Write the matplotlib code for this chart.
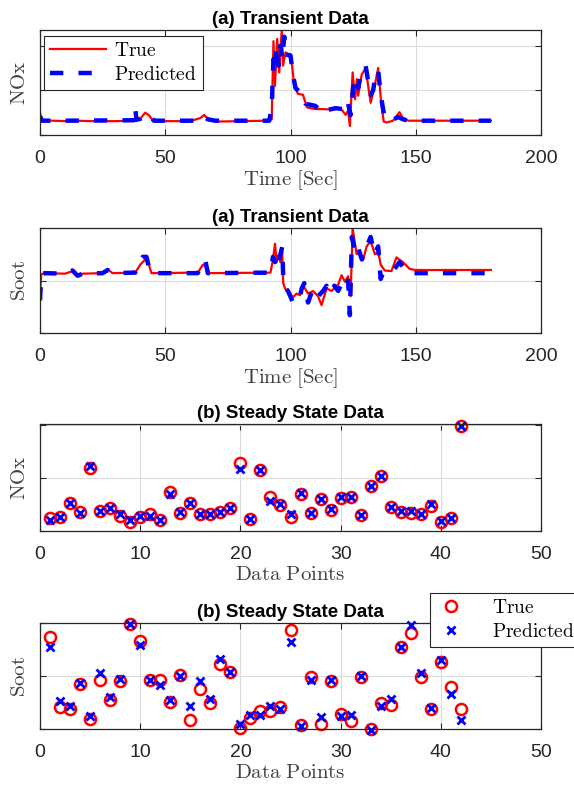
import numpy as np
import matplotlib
matplotlib.use('Agg')
import matplotlib.pyplot as plt

plt.rcParams['font.family'] = ['Liberation Sans', 'DejaVu Sans']
plt.rcParams['mathtext.fontset'] = 'cm'

# transient NOx (time in sec, arbitrary normalised units)
nox_t_true = [0, 0.5, 1, 5, 10, 13, 15, 20, 30, 38, 40, 42, 43.5, 45, 50, 60, 64, 65.5, 67, 70,
              80, 90, 92.5, 93.2, 93.8, 94.7, 95.5, 96.5, 97, 98, 99.5, 100.5, 101.5, 103, 105,
              106.5, 108, 110, 113, 116, 120, 122, 123, 123.7, 124.8, 125.8, 126.5, 127, 128.4,
              130, 131, 132, 133.6, 135, 136, 137.2, 138.5, 140.9, 143.5, 144.9, 147, 150, 180]
nox_true = [0.50, 0.35, 0.33, 0.32, 0.31, 0.34, 0.32, 0.31, 0.31, 0.32, 0.36, 0.50, 0.44, 0.33,
            0.31, 0.31, 0.38, 0.45, 0.36, 0.30, 0.31, 0.32, 0.35, 2.10, 1.10, 2.15, 1.40, 2.35,
            1.55, 1.85, 1.80, 1.62, 1.10, 0.92, 0.90, 0.62, 0.60, 0.58, 0.58, 0.57, 0.60, 0.45,
            0.55, 0.20, 1.40, 0.80, 1.25, 0.88, 1.35, 1.50, 1.10, 0.72, 1.10, 1.50, 0.85, 0.30,
            0.28, 0.32, 0.51, 0.38, 0.32, 0.32, 0.32]
nox_t_pred = [0, 0.8, 10, 37.5, 38, 38.5, 40, 42, 44, 45.5, 63, 65, 67, 70, 91.5, 92.5, 93.2,
              93.8, 94.5, 95.2, 96, 96.7, 97.5, 98, 100, 101, 102, 105, 106, 110, 112, 113, 114,
              118, 121, 122, 123, 124, 125, 126, 127, 128, 130, 131, 132, 133, 134, 135, 136,
              137.5, 140, 143, 145, 147, 180]
nox_pred = [0.42, 0.32, 0.32, 0.33, 0.62, 0.34, 0.36, 0.47, 0.42, 0.32, 0.32, 0.42, 0.35, 0.32,
            0.32, 0.60, 1.70, 1.45, 2.00, 1.55, 2.00, 1.70, 2.20, 1.80, 1.78, 1.35, 1.05, 0.90,
            0.70, 0.65, 0.52, 0.48, 0.55, 0.60, 0.58, 0.50, 0.70, 0.45, 1.05, 1.30, 1.05, 1.35,
            1.55, 1.20, 0.90, 1.00, 1.35, 1.45, 0.90, 0.40, 0.32, 0.40, 0.35, 0.32, 0.32]

# transient soot
soot_t_true = [0, 0.5, 2, 10, 13, 15, 17, 25, 27, 29, 38, 40, 42, 43.5, 44.5, 63, 65, 66.5,
               67.5, 92, 93, 93.8, 94.5, 95.1, 96, 96.7, 97.1, 97.8, 99.8, 101, 102.4, 103.8,
               105.1, 107, 109, 111, 112.4, 114.4, 116.4, 119.1, 120.4, 121.7, 123, 124, 124.8,
               126.4, 127.7, 129, 130.4, 132, 133.7, 135, 136, 137.6, 140.3, 142.3, 144.9, 147.6,
               150, 180]
soot_true = [-0.25, 0.12, 0.14, 0.13, 0.18, 0.10, 0.13, 0.14, 0.21, 0.14, 0.15, 0.30, 0.40, 0.30,
             0.14, 0.15, 0.30, 0.25, 0.14, 0.15, 0.40, 0.70, 0.35, 0.48, 0.35, 0.55, -0.05, -0.15,
             -0.25, -0.32, -0.25, -0.28, -0.10, -0.25, -0.20, -0.30, -0.47, -0.15, -0.20, -0.07,
             0.10, -0.02, 0.08, -0.30, 1.00, 0.50, 0.55, 0.40, 0.65, 0.75, 0.50, 0.55, 0.30, 0.19,
             0.18, 0.44, 0.35, 0.22, 0.20, 0.20]
soot_t_pred = [0, 0.5, 2, 10, 13, 15, 17, 25, 27, 29, 38, 39.5, 41, 42.5, 43.5, 44.5, 63, 64.5,
               66, 67, 92, 93, 93.8, 94.5, 95.2, 96.7, 97.2, 99, 101, 102, 103.8, 104.5, 105.5,
               107, 109, 111, 113, 114.4, 116, 117.5, 119, 120.5, 122, 123, 123.7, 124.5, 126,
               127, 128.5, 130, 132, 133.5, 135, 136, 137, 140, 142, 143.5, 145, 147, 180]
soot_pred = [-0.38, 0.12, 0.14, 0.13, 0.19, 0.09, 0.13, 0.14, 0.20, 0.14, 0.15, 0.35, 0.45, 0.45,
             0.25, 0.14, 0.14, 0.35, 0.38, 0.14, 0.15, 0.45, 0.35, 0.50, 0.35, 0.64, -0.10, -0.20,
             -0.42, -0.30, -0.30, -0.15, -0.05, -0.42, -0.15, -0.30, -0.20, -0.10, -0.25, -0.10,
             -0.20, -0.05, -0.15, 0.00, -0.66, 0.83, 0.50, 0.62, 0.40, 0.60, 0.83, 0.50, 0.65,
             0.03, 0.15, 0.15, 0.25, 0.35, 0.25, 0.14, 0.14]

# steady state data points 1..42
ss_idx = np.arange(1, 43)
ss_nox_true = [0.253, 0.272, 0.538, 0.354, 1.189, 0.380, 0.443, 0.291, 0.177, 0.259, 0.323, 0.215,
               0.746, 0.335, 0.525, 0.316, 0.316, 0.367, 0.430, 1.284, 0.228, 1.157, 0.651, 0.493,
               0.266, 0.696, 0.335, 0.607, 0.398, 0.620, 0.639, 0.304, 0.854, 1.044, 0.449, 0.367,
               0.335, 0.316, 0.474, 0.164, 0.253, 1.992]
ss_nox_pred = [0.209, 0.272, 0.538, 0.335, 1.233, 0.386, 0.443, 0.316, 0.209, 0.291, 0.291, 0.215,
               0.696, 0.354, 0.525, 0.316, 0.316, 0.367, 0.430, 1.176, 0.228, 1.157, 0.569, 0.519,
               0.323, 0.715, 0.335, 0.607, 0.417, 0.651, 0.651, 0.304, 0.854, 1.044, 0.455, 0.386,
               0.386, 0.316, 0.519, 0.190, 0.253, 1.992]
ss_soot_true = [1.736, 0.415, 0.384, 0.849, 0.189, 0.918, 0.553, 0.899, 1.981, 1.654, 0.931, 0.931,
                0.503, 1.025, 0.176, 0.761, 0.491, 1.233, 1.069, 0.019, 0.208, 0.346, 0.333, 0.415,
                1.874, 0.082, 0.981, 0.094, 0.899, 0.289, 0.157, 0.981, 0.000, 0.491, 0.447, 1.541,
                1.811, 0.981, 0.384, 1.258, 0.786, 0.377]
ss_soot_pred = [1.547, 0.535, 0.440, 0.868, 0.239, 1.057, 0.604, 0.943, 1.987, 1.591, 0.918, 0.836,
                0.553, 1.006, 0.440, 0.899, 0.566, 1.321, 1.069, 0.094, 0.270, 0.270, 0.440, 0.377,
                1.635, 0.063, 0.918, 0.226, 0.931, 0.252, 0.270, 0.994, -0.013, 0.440, 0.566, 1.547,
                1.969, 1.057, 0.396, 1.308, 0.667, 0.164]

W, H = 574, 788
fig = plt.figure(figsize=(W / 100, H / 100), dpi=100)

left, width = 40 / W, 501 / W
boxes = [(30, 135), (228, 333), (424, 531), (623, 729)]
axs = [fig.add_axes([left, 1 - b / H, width, (b - t) / H]) for t, b in boxes]

RED = '#FF0000'
BLUE = '#0000FF'


def style(ax, xlim, xticks, ylim, yticks, title, xlabel, ylabel):
    ax.set_xlim(*xlim)
    ax.set_ylim(*ylim)
    ax.set_xticks(xticks)
    ax.set_yticks(yticks)
    ax.set_yticklabels([])
    ax.grid(True, color='#DCDCDC', linewidth=0.8)
    ax.set_axisbelow(True)
    ax.tick_params(direction='in', top=True, right=True, length=4, width=0.8,
                   color='#262626', labelsize=14, labelcolor='#262626', pad=11)
    for s in ax.spines.values():
        s.set_color('#262626')
        s.set_linewidth(0.9)
    ax.set_title(title, fontsize=13.5, fontweight='bold', pad=4)
    ax.set_xlabel(r'$\mathrm{' + xlabel + '}$', fontsize=15, color='#404040', labelpad=1)
    ax.set_ylabel(r'$\mathrm{' + ylabel + '}$', fontsize=15, color='#404040')
    ax.yaxis.set_label_coords(-0.022, 0.5)


# (a) transient NOx
ax = axs[0]
ax.plot(nox_t_true, nox_true, color=RED, lw=1.6, label=r'$\mathrm{True}$')
ax.plot(nox_t_pred, nox_pred, color=BLUE, lw=3.2, dashes=(3.0, 3.4), dash_capstyle='butt',
        label=r'$\mathrm{Predicted}$')
style(ax, (0, 200), [0, 50, 100, 150, 200], (0, 2.35), [0, 1, 2],
      '(a) Transient Data', r'Time\ [Sec]', 'NOx')
leg = ax.legend(loc='upper left', bbox_to_anchor=(0.008, 0.94), fancybox=False,
                edgecolor='#262626', framealpha=1, handlelength=2.9, borderpad=0.3,
                labelspacing=0.3, handletextpad=0.4, borderaxespad=0,
                prop={'size': 14})
leg.get_frame().set_linewidth(0.8)

# (a) transient soot
ax = axs[1]
ax.plot(soot_t_true, soot_true, color=RED, lw=1.6)
ax.plot(soot_t_pred, soot_pred, color=BLUE, lw=3.2, dashes=(3.0, 3.4), dash_capstyle='butt')
style(ax, (0, 200), [0, 50, 100, 150, 200], (-1, 1), [-1, 0, 1],
      '(a) Transient Data', r'Time\ [Sec]', 'Soot')

# (b) steady state NOx
ax = axs[2]
ax.plot(ss_idx, ss_nox_true, 'o', mfc='none', mec=RED, ms=8, mew=1.8, clip_on=False)
ax.plot(ss_idx, ss_nox_pred, 'x', color=BLUE, ms=6, mew=2.0, clip_on=False)
style(ax, (0, 50), [0, 10, 20, 30, 40, 50], (0, 2.025), [0, 1, 2],
      '(b) Steady State Data', r'Data\ Points', 'NOx')

# (b) steady state soot
ax = axs[3]
h1, = ax.plot(ss_idx, ss_soot_true, 'o', mfc='none', mec=RED, ms=8, mew=1.8, clip_on=False)
h2, = ax.plot(ss_idx, ss_soot_pred, 'x', color=BLUE, ms=6, mew=2.0, clip_on=False)
style(ax, (0, 50), [0, 10, 20, 30, 40, 50], (0, 2), [0, 1, 2],
      '(b) Steady State Data', r'Data\ Points', 'Soot')
leg = ax.legend([h1, h2], [r'$\mathrm{True}$', r'$\mathrm{Predicted}$'], loc='upper left',
                bbox_to_anchor=(430 / W, 1 - 593 / H), bbox_transform=fig.transFigure,
                fancybox=False, edgecolor='#262626', framealpha=1, handlelength=1.6,
                borderpad=0.3, labelspacing=0.3, handletextpad=1.3, borderaxespad=0,
                prop={'size': 14})
leg.get_frame().set_linewidth(0.8)

fig.savefig('out.png', dpi=100)
